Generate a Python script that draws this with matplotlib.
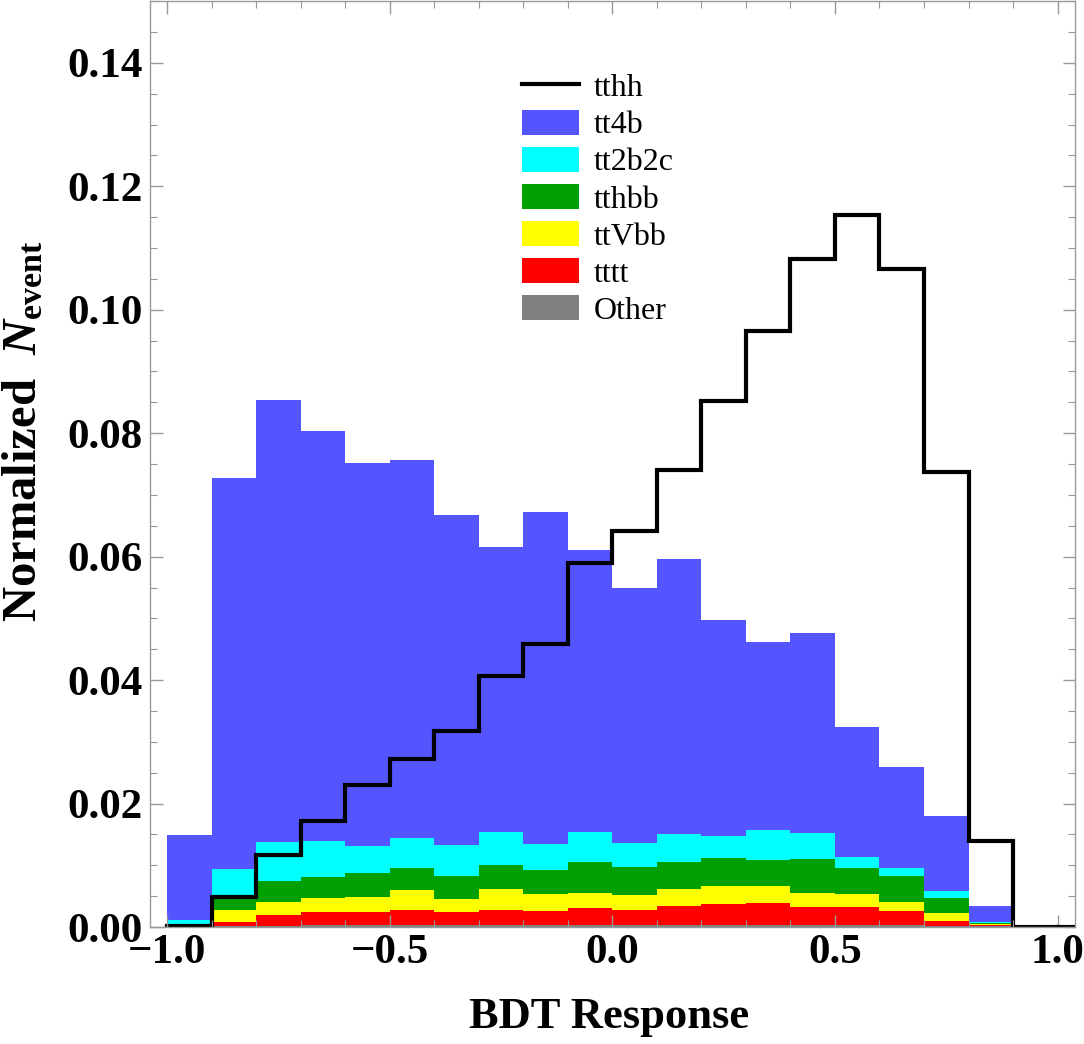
import matplotlib
matplotlib.use("Agg")
import matplotlib.pyplot as plt
import numpy as np
from matplotlib.ticker import MultipleLocator

plt.rcParams['font.family'] = ['Liberation Serif', 'DejaVu Serif']
plt.rcParams['mathtext.fontset'] = 'custom'
plt.rcParams['mathtext.rm'] = 'Liberation Serif:bold'
plt.rcParams['mathtext.bf'] = 'Liberation Serif:bold'
plt.rcParams['mathtext.it'] = 'Liberation Serif:bold:italic'

# bin edges of the BDT response
edges = np.linspace(-1.0, 1.0, 21)

# signal (line)
tthh = [0.0002, 0.0048, 0.0117, 0.0172, 0.0230, 0.0272, 0.0318, 0.0406, 0.0458, 0.0589,
        0.0641, 0.0741, 0.0852, 0.0966, 0.1082, 0.1154, 0.1066, 0.0737, 0.0140, 0.0]

# backgrounds, stacked from the bottom up
other = [0, 0.0001, 0.0002, 0.0003, 0.0003, 0.0003, 0.0003, 0.0003, 0.0003, 0.0003,
         0.0003, 0.0003, 0.0003, 0.0003, 0.0003, 0.0003, 0.0003, 0.0002, 0.0001, 0]
tttt = [0, 0.0008, 0.0018, 0.0022, 0.0021, 0.0025, 0.0021, 0.0025, 0.0023, 0.0028,
        0.0025, 0.0031, 0.0034, 0.0036, 0.0030, 0.0029, 0.0023, 0.0008, 0.0002, 0]
ttVbb = [0, 0.0019, 0.0021, 0.0022, 0.0025, 0.0032, 0.0022, 0.0034, 0.0027, 0.0025,
         0.0024, 0.0028, 0.0029, 0.0028, 0.0023, 0.0021, 0.0014, 0.0012, 0.0002, 0]
tthbb = [0, 0.0017, 0.0034, 0.0034, 0.0038, 0.0036, 0.0037, 0.0039, 0.0039, 0.0049,
         0.0046, 0.0044, 0.0046, 0.0042, 0.0055, 0.0043, 0.0043, 0.0025, 0.0002, 0]
tt2b2c = [0.0011, 0.0049, 0.0062, 0.0059, 0.0045, 0.0048, 0.0050, 0.0053, 0.0042, 0.0049,
          0.0038, 0.0044, 0.0035, 0.0049, 0.0041, 0.0018, 0.0013, 0.0011, 0.0002, 0]
tt4b = [0.0138, 0.0634, 0.0716, 0.0663, 0.0620, 0.0613, 0.0534, 0.0461, 0.0538, 0.0457,
        0.0414, 0.0446, 0.0350, 0.0303, 0.0324, 0.0210, 0.0163, 0.0122, 0.0025, 0]

stack = [("Other", other, "#808080"),
         ("tttt", tttt, "#ff0000"),
         ("ttVbb", ttVbb, "#ffff00"),
         ("tthbb", tthbb, "#00a000"),
         ("tt2b2c", tt2b2c, "#00ffff"),
         ("tt4b", tt4b, "#5555ff")]

fig = plt.figure(figsize=(10.84, 10.44), dpi=100)
ax = fig.add_axes([0.138, 0.112, 0.854, 0.887])

bottom = np.zeros(len(edges) - 1)
handles = {}
for name, vals, col in stack:
    vals = np.array(vals)
    h = ax.bar(edges[:-1], vals, width=0.1, bottom=bottom, align='edge',
               color=col, edgecolor='none', linewidth=0, label=name)
    handles[name] = h
    bottom = bottom + vals

line = ax.stairs(tthh, edges, color='black', linewidth=3, baseline=0, label='tthh')
ax.plot([1.0, 1.04], [0, 0], color='black', linewidth=3)

ax.set_xlim(-1.04, 1.04)
ax.set_ylim(0, 0.15)

ax.xaxis.set_major_locator(MultipleLocator(0.5))
ax.xaxis.set_minor_locator(MultipleLocator(0.1))
ax.yaxis.set_major_locator(MultipleLocator(0.02))
ax.yaxis.set_minor_locator(MultipleLocator(0.005))
ax.tick_params(which='both', direction='in', top=True, right=True, color='#999999')
ax.tick_params(which='major', length=9, width=1)
ax.tick_params(which='minor', length=5, width=0.8)
ax.tick_params(axis='both', labelsize=31, pad=5)
ax.yaxis.set_major_formatter(plt.FuncFormatter(lambda v, p: f"{v:.2f}"))
ax.xaxis.set_major_formatter(plt.FuncFormatter(lambda v, p: f"{v:.1f}".replace('-', '\u2212')))
for lab in ax.get_xticklabels() + ax.get_yticklabels():
    lab.set_fontweight('bold')
for s in ax.spines.values():
    s.set_color('#999999')
    s.set_linewidth(1)

ax.set_xlabel("BDT Response", fontsize=32, fontweight='bold')
ax.xaxis.set_label_coords(0.496, -0.076)
ax.set_ylabel(r"Normalized  $\mathit{N}_{\mathrm{event}}$", fontsize=35,
              fontweight='bold')
ax.yaxis.set_label_coords(-0.111, 0.536)

order = ["tt4b", "tt2b2c", "tthbb", "ttVbb", "tttt", "Other"]
leg = ax.legend([line] + [handles[n] for n in order], ["tthh"] + order,
                loc='upper left', bbox_to_anchor=(0.3855, 0.94), frameon=False,
                fontsize=23, handlelength=1.78, handleheight=0.84,
                labelspacing=0.2, handletextpad=0.45, borderpad=0)

fig.savefig("out.png", dpi=100)
